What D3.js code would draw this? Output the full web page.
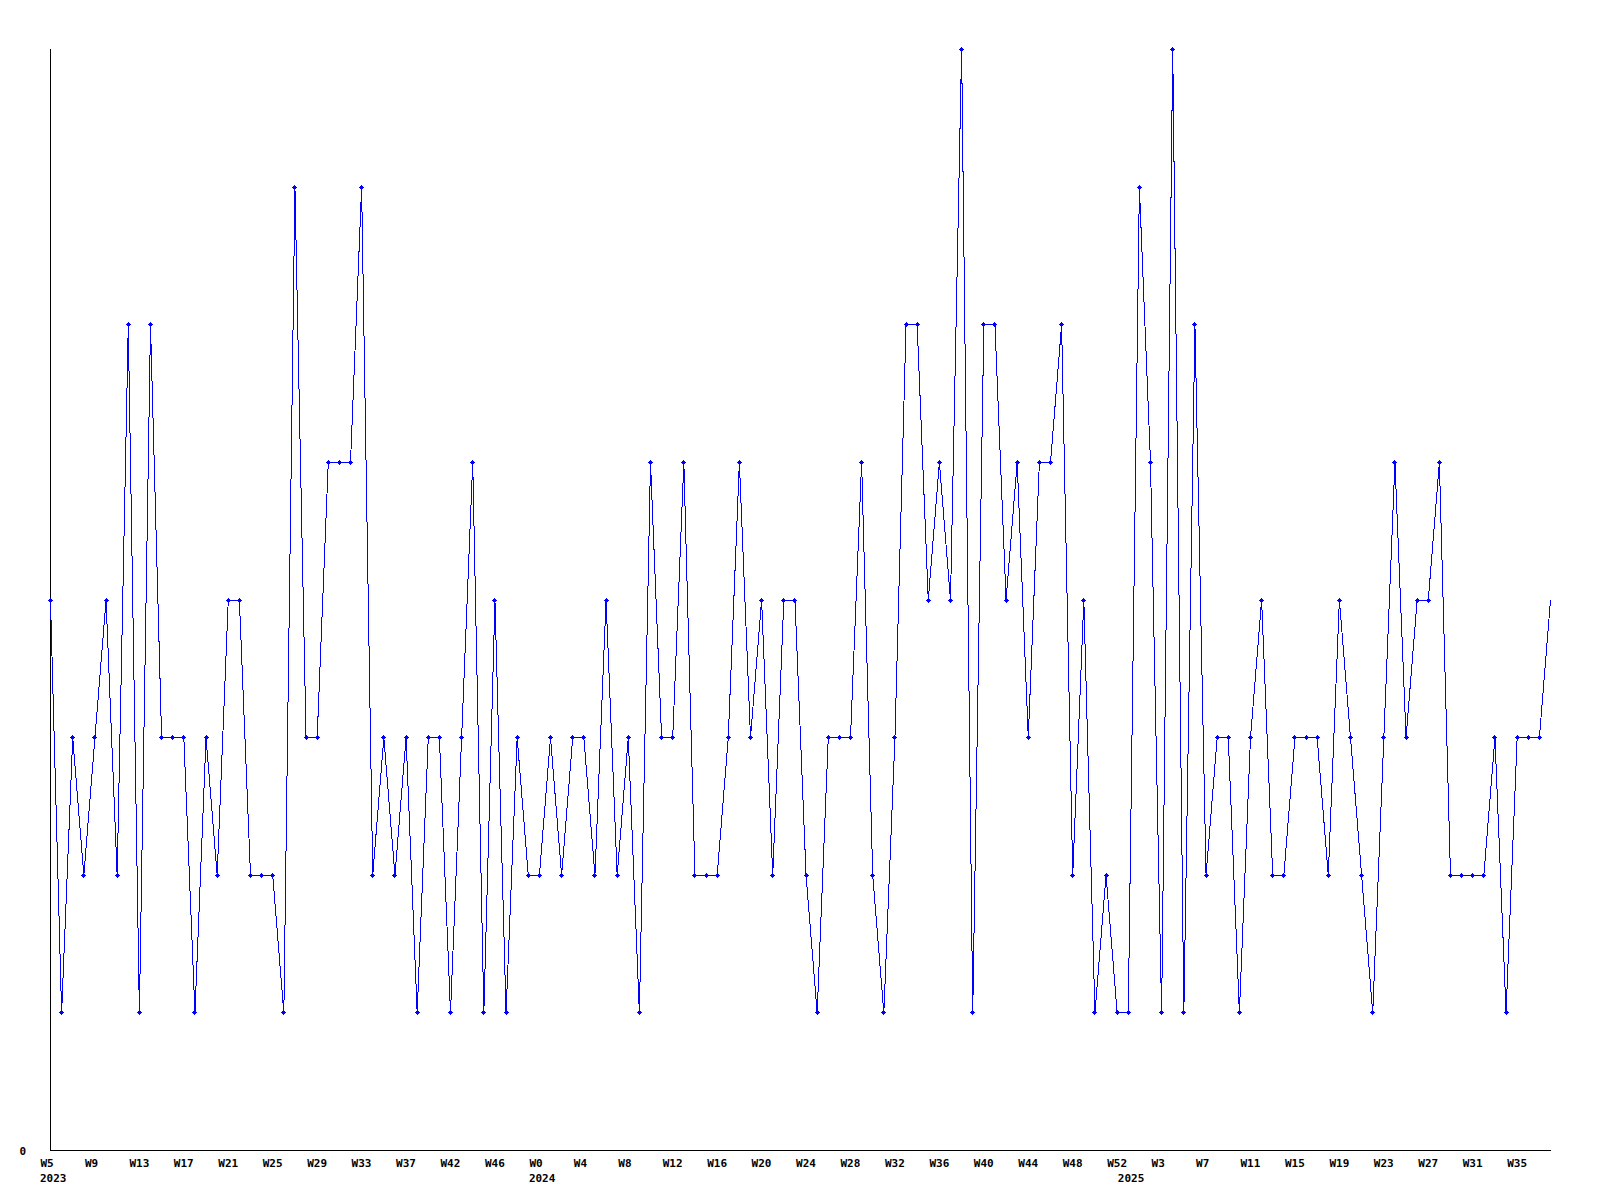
<!DOCTYPE html>
<html>
<head>
<meta charset="utf-8">
<script src="https://cdn.jsdelivr.net/npm/d3@7"></script>
<style>
  html, body { margin: 0; padding: 0; background: #fff; }
  svg { display: block; }
  text { font-family: "DejaVu Sans Mono", "Liberation Mono", monospace; font-weight: bold; font-size: 11px; fill: #000; }
</style>
</head>
<body>
<svg id="chart" width="1600" height="1200"></svg>
<script>
// weekly values, one per point
const values = [
  4,1,3,2,3,4,2,6,1,6,
  3,3,3,1,3,2,4,4,2,2,
  2,1,7,3,3,5,5,5,7,2,
  3,2,3,1,3,3,1,3,5,1,
  4,1,3,2,2,3,2,3,3,2,
  4,2,3,1,5,3,3,5,2,2,
  2,3,5,3,4,2,4,4,2,1,
  3,3,3,5,2,1,3,6,6,4,
  5,4,8,1,6,6,4,5,3,5,
  5,6,2,4,1,2,1,1,7,5,
  1,8,1,6,2,3,3,1,3,4,
  2,2,3,3,3,2,4,3,2,1,
  3,5,3,4,4,5,2,2,2,2,
  3,1,3,3,3,4
];
// labels shown on every 4th point
const tickLabels = ["W5","W9","W13","W17","W21","W25","W29","W33","W37","W42","W46",
  "W0","W4","W8","W12","W16","W20","W24","W28","W32","W36","W40","W44","W48","W52",
  "W3","W7","W11","W15","W19","W23","W27","W31","W35"];
const tickStep = 4;
// year labels and the point index where each year starts
const yearLabels = ["2023","2024","2025"];
const yearIndex = [0, 44, 97];
const yTicks = [0];
const yMax = 8;

const svg = d3.select("#chart");
const x = d3.scaleLinear().domain([0, values.length - 1]).range([50.5, 1550.5]);
const y = d3.scaleLinear().domain([0, yMax]).range([1150.5, 49.5]);

const labelDx = -10.5;

// x axis
const tickIdx = tickLabels.map((_, i) => i * tickStep);
const xAxis = d3.axisBottom(x)
  .tickValues(tickIdx)
  .tickSize(0)
  .tickSizeOuter(0)
  .tickFormat((d, i) => tickLabels[i]);
const gx = svg.append("g").attr("transform", "translate(0,1150)").call(xAxis);
gx.select(".domain").attr("stroke", "#000").attr("shape-rendering", "crispEdges");
gx.selectAll(".tick text")
  .attr("text-anchor", "start")
  .attr("dx", labelDx)
  .attr("y", 17)
  .attr("dy", 0)
  .attr("fill", "#000")
  .style("font-family", "'DejaVu Sans Mono', monospace")
  .style("font-weight", "bold")
  .style("font-size", "11px");

// year labels
svg.append("g").selectAll("text")
  .data(yearLabels)
  .join("text")
  .attr("x", (d, i) => x(yearIndex[i]) + labelDx)
  .attr("y", 1182)
  .attr("text-anchor", "start")
  .text(d => d);

// y axis
const yAxis = d3.axisLeft(y).tickValues(yTicks).tickSize(0).tickSizeOuter(0).tickFormat(d3.format("d"));
const gy = svg.append("g").attr("transform", "translate(0,0)").call(yAxis);
gy.select(".domain").remove();
gy.selectAll(".tick text")
  .attr("x", 26)
  .attr("dy", 0)
  .attr("y", 4)
  .attr("text-anchor", "end")
  .attr("fill", "#000")
  .style("font-family", "'DejaVu Sans Mono', monospace")
  .style("font-weight", "bold")
  .style("font-size", "11px");
gy.attr("transform", "translate(0,0)");
gy.selectAll(".tick").attr("transform", d => `translate(0,${y(d)})`);
svg.append("line")
  .attr("x1", x(0)).attr("x2", x(0))
  .attr("y1", y(0)).attr("y2", y(yMax) - 1)
  .attr("stroke", "#000").attr("shape-rendering", "crispEdges");

// data line
const line = d3.line().x((d, i) => x(i)).y(d => y(d));
svg.append("path")
  .datum(values)
  .attr("d", line)
  .attr("fill", "none")
  .attr("stroke", "#0000ff")
  .attr("stroke-width", 1)
  .attr("shape-rendering", "crispEdges");

// point markers (plus shapes)
const pts = values.map((v, i) => ({ v, i })).filter(p => p.i < values.length - 1);
const mk = svg.append("g").attr("fill", "#0000ff").attr("shape-rendering", "crispEdges");
const g = mk.selectAll("g").data(pts).join("g")
  .attr("transform", p => `translate(${Math.floor(x(p.i))},${Math.floor(y(p.v))})`);
g.append("rect").attr("x", -2).attr("y", 0).attr("width", 5).attr("height", 1);
g.append("rect").attr("x", 0).attr("y", -2).attr("width", 1).attr("height", 5);
g.append("rect").attr("x", -1).attr("y", -1).attr("width", 3).attr("height", 3);
</script>
</body>
</html>
